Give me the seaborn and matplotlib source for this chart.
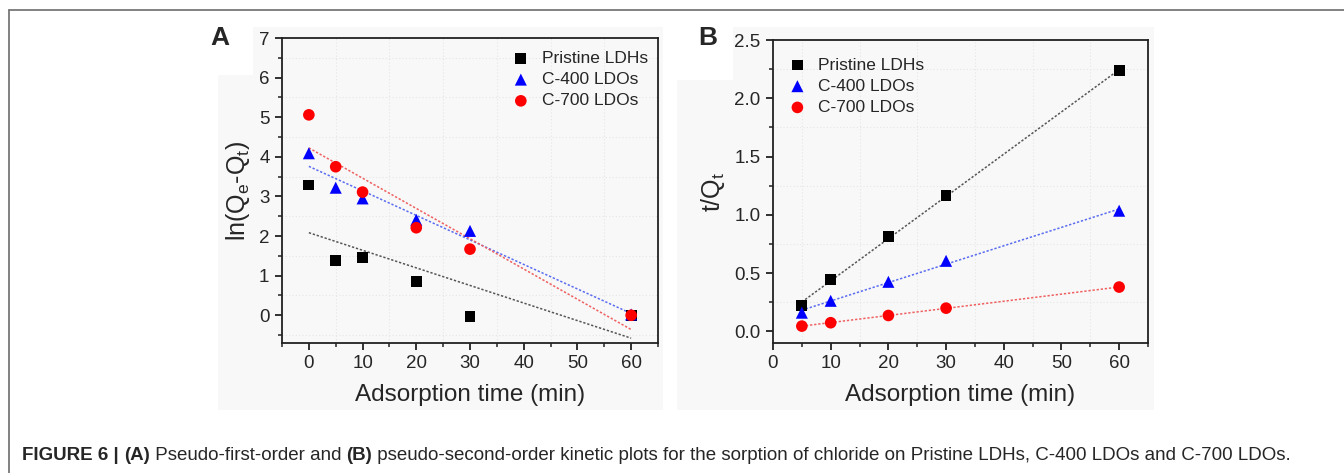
import seaborn as sns
import pandas as pd
import numpy as np
import matplotlib.pyplot as plt
from matplotlib.patches import Polygon
from matplotlib.lines import Line2D
from matplotlib.ticker import MultipleLocator

# panel A: pseudo-first-order, ln(Qe-Qt) vs time
time_a = [0, 5, 10, 20, 30, 60]
pristine_a = [3.29, 1.39, 1.46, 0.86, -0.04, 0.0]
c400_a = [4.09, 3.22, 2.95, 2.41, 2.13, 0.02]
c700_a = [5.06, 3.75, 3.11, 2.21, 1.67, 0.0]

# panel B: pseudo-second-order, t/Qt vs time
time_b = [5, 10, 20, 30, 60]
pristine_b = [0.22, 0.448, 0.817, 1.163, 2.236]
c400_b = [0.16, 0.262, 0.425, 0.605, 1.035]
c700_b = [0.045, 0.074, 0.136, 0.199, 0.38]

series = ["Pristine LDHs", "C-400 LDOs", "C-700 LDOs"]
colors = ["#000000", "#0000ff", "#ff0000"]
fit_colors = ["#555555", "#5a6cf0", "#f06060"]
markers = ["s", "^", "o"]
sizes = [60, 75, 70]

sns.set_theme(style="ticks")
plt.rcParams['font.family'] = ['Liberation Sans', 'DejaVu Sans']
plt.rcParams['mathtext.default'] = 'regular'

fig = plt.figure(figsize=(13.44, 4.73), dpi=100)
W, H = 1344, 473


# light panel backgrounds
def panel_bg(x0, x1, y0, y1, nx, ny):
    pts = [(x0, ny), (nx, ny), (nx, y0), (x1, y0), (x1, y1), (x0, y1)]
    pts = [(a / W, 1 - b / H) for a, b in pts]
    fig.patches.append(Polygon(pts, closed=True, transform=fig.transFigure,
                               facecolor="#f8f8f8", edgecolor="none", zorder=-5))


panel_bg(218, 663, 27, 410, 253, 75)
panel_bg(677, 1154, 27, 410, 733, 80)

# frame lines
fig.add_artist(Line2D([9 / W, 1], [1 - 10 / H, 1 - 10 / H], color="#777777", lw=1.3))
fig.add_artist(Line2D([9 / W, 9 / W], [0, 1 - 10 / H], color="#777777", lw=1.3))

ax_a = fig.add_axes([282 / W, 1 - 343 / H, (658 - 282) / W, (343 - 38) / H])
ax_b = fig.add_axes([773 / W, 1 - 343 / H, (1148 - 773) / W, (343 - 40) / H])

data_a = [pristine_a, c400_a, c700_a]
data_b = [pristine_b, c400_b, c700_b]

for ax, t, ys in [(ax_a, time_a, data_a), (ax_b, time_b, data_b)]:
    ax.set_facecolor("none")
    for name, y, c, fc, m, s in zip(series, ys, colors, fit_colors, markers, sizes):
        df = pd.DataFrame({"t": t, "y": y})
        sns.regplot(data=df, x="t", y="y", ax=ax, scatter=False, ci=None,
                    line_kws=dict(color=fc, lw=1.1, ls=(0, (1.5, 1.2))))
        sns.scatterplot(data=df, x="t", y="y", ax=ax, color=c, marker=m, s=s,
                        edgecolor="none", label=name, zorder=3)
    for sp in ax.spines.values():
        sp.set_linewidth(1.3)
        sp.set_color("#222222")
    ax.tick_params(which="major", direction="out", length=5, width=1.3,
                   labelsize=13.5, color="#222222", top=False, right=False, pad=4)
    ax.tick_params(which="minor", direction="out", length=3, width=1.1,
                   color="#222222", top=False, right=False)
    ax.grid(which="minor", color="#e6e6e6", ls=(0, (1, 2)), lw=0.8)
    ax.set_xlabel("Adsorption time (min)", fontsize=17.5, labelpad=8)

ax_a.set_xlim(-5, 65)
ax_a.set_ylim(-0.7, 7)
ax_a.xaxis.set_minor_locator(MultipleLocator(5))
ax_a.yaxis.set_major_locator(MultipleLocator(1))
ax_a.yaxis.set_minor_locator(MultipleLocator(0.5))
ax_a.set_xticks([0, 10, 20, 30, 40, 50, 60])
ax_a.set_ylabel("ln(Q$_e$-Q$_t$)", fontsize=18, labelpad=5)
ax_a.legend(loc="upper right", frameon=False, fontsize=12.5, handletextpad=0.6,
            borderaxespad=0.6, labelspacing=0.35, handlelength=1.2,
            bbox_to_anchor=(1.019, 1.015))

ax_b.set_xlim(0, 65)
ax_b.set_ylim(-0.1, 2.5)
ax_b.xaxis.set_minor_locator(MultipleLocator(5))
ax_b.yaxis.set_major_locator(MultipleLocator(0.5))
ax_b.yaxis.set_minor_locator(MultipleLocator(0.25))
ax_b.set_xticks([0, 10, 20, 30, 40, 50, 60])
ax_b.yaxis.set_major_formatter(plt.FormatStrFormatter("%.1f"))
ax_b.set_ylabel("t/Q$_t$", fontsize=18, labelpad=5)
ax_b.legend(loc="upper left", frameon=False, fontsize=12.5, handletextpad=0.6,
            borderaxespad=0.6, labelspacing=0.35, handlelength=1.2,
            bbox_to_anchor=(-0.009, 1.0))

fig.text(220 / W, 1 - 38 / H, "A", fontsize=19, fontweight="bold", ha="center", va="center")
fig.text(708 / W, 1 - 38 / H, "B", fontsize=19, fontweight="bold", ha="center", va="center")

# caption with mixed weights, sized to span the same width as the original
parts = [("FIGURE 6 | ", "bold"), ("(A)", "bold"), (" Pseudo-first-order and ", "normal"),
         ("(B)", "bold"),
         (" pseudo-second-order kinetic plots for the sorption of chloride on Pristine LDHs, C-400 LDOs and C-700 LDOs.", "normal")]
cap_family = ['Liberation Sans Narrow', 'Liberation Sans', 'DejaVu Sans']
renderer = fig.canvas.get_renderer()


def draw_caption(size):
    x = 22 / W
    texts = []
    for txt, wt in parts:
        t = fig.text(x, 1 - 455 / H, txt, fontsize=size, fontweight=wt,
                     va="center", ha="left", family=cap_family)
        texts.append(t)
        x = t.get_window_extent(renderer=renderer).x1 / W
    return texts, x * W


texts, end = draw_caption(11)
for t in texts:
    t.remove()
size = min(11 * (1293 - 22) / (end - 22), 13.5)
draw_caption(size)

plt.savefig("out.png", dpi=100)
